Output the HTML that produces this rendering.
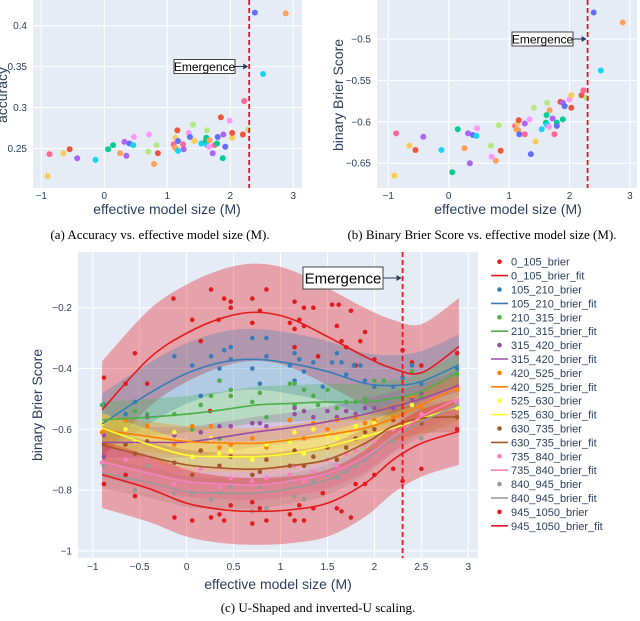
<!DOCTYPE html>
<html><head><meta charset="utf-8">
<style>
body{margin:0;background:#fff;width:640px;height:621px;overflow:hidden}
svg{display:block;font-family:"Liberation Sans",sans-serif}
.cap{font-family:"Liberation Serif",serif;font-size:13px;fill:#000}
.tick{font-size:10px;fill:#2a3f5f}
.ttl{font-size:14px;fill:#2a3f5f}
</style></head>
<body>
<svg id="fig" width="640" height="621" viewBox="0 0 640 621"></svg>
<script>
// ---------- data: panel (a) ----------
const aX=[-0.9,-0.87,-0.65,-0.55,-0.43,-0.14,0.06,0.14,0.25,0.32,0.35,0.4,0.46,0.47,0.7,0.71,0.79,0.83,0.85,1.1,1.12,1.13,1.15,1.16,1.17,1.17,1.25,1.26,1.34,1.36,1.41,1.43,1.54,1.61,1.62,1.63,1.63,1.66,1.67,1.72,1.75,1.79,1.8,1.85,1.88,1.89,1.92,1.99,2.03,2.03,2.2,2.22,2.28,2.39,2.52,2.88];
const aY=[0.216,0.243,0.244,0.249,0.238,0.236,0.249,0.254,0.244,0.258,0.241,0.256,0.254,0.264,0.246,0.267,0.231,0.254,0.244,0.255,0.251,0.263,0.249,0.272,0.259,0.247,0.255,0.249,0.269,0.264,0.279,0.259,0.256,0.259,0.263,0.272,0.254,0.252,0.26,0.244,0.254,0.256,0.264,0.288,0.238,0.267,0.252,0.284,0.263,0.269,0.267,0.308,0.273,0.416,0.341,0.415];
const aC=[9,6,9,1,3,5,2,2,4,3,3,0,5,8,7,8,4,7,1,6,4,9,4,1,0,5,6,3,8,0,7,9,5,2,2,7,5,8,4,3,6,2,0,1,2,3,0,8,9,1,1,6,7,0,5,4];
const aTicksY=[0.25,0.3,0.35,0.4];
// ---------- data: panel (b) ----------
const bX=[-0.9,-0.87,-0.65,-0.55,-0.42,-0.12,0.06,0.15,0.26,0.32,0.35,0.4,0.46,0.47,0.7,0.71,0.78,0.83,0.86,1.1,1.12,1.14,1.15,1.16,1.17,1.26,1.26,1.34,1.36,1.41,1.44,1.54,1.61,1.62,1.63,1.63,1.66,1.67,1.72,1.75,1.79,1.79,1.85,1.89,1.89,1.92,2.0,2.03,2.03,2.2,2.23,2.28,2.4,2.52,2.88];
const bY=[-0.665,-0.614,-0.629,-0.634,-0.618,-0.634,-0.661,-0.609,-0.632,-0.614,-0.65,-0.616,-0.617,-0.608,-0.629,-0.642,-0.647,-0.604,-0.635,-0.605,-0.609,-0.602,-0.61,-0.598,-0.615,-0.602,-0.615,-0.597,-0.639,-0.583,-0.624,-0.609,-0.601,-0.592,-0.577,-0.604,-0.606,-0.586,-0.596,-0.615,-0.601,-0.605,-0.576,-0.577,-0.597,-0.581,-0.573,-0.568,-0.583,-0.568,-0.562,-0.571,-0.468,-0.538,-0.48];
const bC=[9,6,9,1,3,5,2,2,4,3,3,0,5,8,7,8,4,7,1,6,4,9,4,1,0,3,6,8,0,7,9,5,2,2,7,5,8,4,3,6,2,0,1,3,2,0,8,9,1,1,6,7,0,5,4];
const bTicksY=[-0.5,-0.55,-0.6,-0.65];
const xTicksAB=[-1,0,1,2,3];
// ---------- data: panel (c) ----------
const cNames=["0_105","105_210","210_315","315_420","420_525","525_630","630_735","735_840","840_945","945_1050"];
const fitX=[-0.9,-0.4,0,0.4,0.75,1.1,1.5,1.9,2.2,2.5,2.9];
const fit0=[-0.536,-0.367,-0.284,-0.232,-0.215,-0.235,-0.295,-0.361,-0.40,-0.414,-0.328];
const fit1=[-0.582,-0.482,-0.416,-0.378,-0.37,-0.383,-0.41,-0.449,-0.456,-0.443,-0.388];
const fit2=[-0.569,-0.56,-0.55,-0.535,-0.52,-0.515,-0.51,-0.51,-0.498,-0.476,-0.41];
const fit3=[-0.643,-0.643,-0.642,-0.625,-0.608,-0.595,-0.575,-0.55,-0.526,-0.5,-0.455];
const fit4=[-0.602,-0.624,-0.64,-0.645,-0.646,-0.635,-0.618,-0.596,-0.564,-0.52,-0.46];
const fit5=[-0.596,-0.65,-0.685,-0.69,-0.69,-0.68,-0.657,-0.624,-0.596,-0.565,-0.525];
const fit6=[-0.652,-0.69,-0.717,-0.728,-0.731,-0.72,-0.70,-0.646,-0.59,-0.564,-0.559];
const fit7=[-0.707,-0.745,-0.772,-0.78,-0.783,-0.77,-0.745,-0.69,-0.624,-0.558,-0.498];
const fit8=[-0.744,-0.775,-0.805,-0.81,-0.81,-0.795,-0.766,-0.70,-0.629,-0.575,-0.52];
const fit9=[-0.749,-0.795,-0.843,-0.865,-0.87,-0.865,-0.843,-0.778,-0.70,-0.646,-0.607];
const bandHalf=[0.16,0.1,0.06,0.05,0.05,0.05,0.05,0.05,0.05,0.11];
const pts0=[[-0.88,-0.43],[-0.65,-0.45],[-0.55,-0.35],[-0.42,-0.45],[-0.14,-0.17],[0.06,-0.24],[0.15,-0.31],[0.26,-0.14],[0.34,-0.24],[0.4,-0.17],[0.47,-0.18],[0.47,-0.2],[0.7,-0.17],[0.7,-0.25],[0.78,-0.21],[0.85,-0.14],[1.1,-0.25],[1.15,-0.18],[1.15,-0.33],[1.15,-0.27],[1.25,-0.2],[1.25,-0.26],[1.35,-0.2],[1.4,-0.36],[1.55,-0.19],[1.6,-0.26],[1.62,-0.19],[1.65,-0.31],[1.7,-0.33],[1.75,-0.21],[1.8,-0.39],[1.85,-0.31],[1.9,-0.28],[2.0,-0.37],[2.3,-0.34],[2.4,-0.38],[2.5,-0.39],[2.88,-0.35],[1.2,-0.24],[0.25,-0.54]];
const pts1=[[-0.88,-0.52],[-0.65,-0.55],[-0.55,-0.51],[-0.13,-0.36],[0.06,-0.39],[0.26,-0.36],[0.35,-0.4],[0.4,-0.34],[0.47,-0.33],[0.47,-0.37],[0.7,-0.3],[0.7,-0.4],[0.78,-0.45],[0.85,-0.3],[0.85,-0.36],[1.1,-0.39],[1.15,-0.35],[1.15,-0.44],[1.2,-0.37],[1.25,-0.41],[1.35,-0.38],[1.45,-0.46],[1.55,-0.38],[1.6,-0.35],[1.65,-0.38],[1.7,-0.42],[1.78,-0.39],[1.85,-0.39],[1.9,-0.44],[2.0,-0.46],[2.2,-0.46],[2.3,-0.43],[2.4,-0.39],[2.5,-0.45],[2.88,-0.4],[0.15,-0.49]];
const pts2=[[-0.9,-0.52],[-0.55,-0.54],[-0.42,-0.55],[-0.13,-0.55],[0.06,-0.6],[0.15,-0.52],[0.26,-0.49],[0.35,-0.44],[0.47,-0.47],[0.47,-0.49],[0.7,-0.51],[0.78,-0.48],[0.85,-0.56],[1.1,-0.45],[1.15,-0.45],[1.15,-0.52],[1.25,-0.47],[1.35,-0.49],[1.4,-0.52],[1.5,-0.47],[1.6,-0.53],[1.7,-0.51],[1.8,-0.51],[1.9,-0.5],[2.0,-0.44],[2.1,-0.44],[2.3,-0.5],[2.4,-0.41],[2.5,-0.49],[2.88,-0.42],[0.35,-0.63]];
const pts3=[[-0.88,-0.69],[-0.88,-0.62],[-0.65,-0.57],[-0.42,-0.56],[-0.13,-0.62],[0.15,-0.61],[0.35,-0.59],[0.47,-0.59],[0.7,-0.58],[0.78,-0.58],[0.85,-0.59],[1.1,-0.57],[1.15,-0.55],[1.15,-0.53],[1.25,-0.54],[1.35,-0.56],[1.5,-0.54],[1.6,-0.56],[1.7,-0.54],[1.8,-0.55],[1.9,-0.53],[2.0,-0.53],[2.2,-0.53],[2.4,-0.5],[2.5,-0.48],[2.88,-0.46]];
const pts4=[[-0.9,-0.61],[-0.65,-0.57],[-0.42,-0.59],[-0.13,-0.65],[0.06,-0.59],[0.26,-0.59],[0.35,-0.66],[0.47,-0.65],[0.47,-0.69],[0.7,-0.63],[0.85,-0.66],[1.1,-0.57],[1.15,-0.61],[1.25,-0.63],[1.35,-0.58],[1.5,-0.6],[1.6,-0.57],[1.7,-0.61],[1.8,-0.56],[1.9,-0.58],[2.0,-0.57],[2.2,-0.56],[2.4,-0.49],[2.5,-0.53],[2.88,-0.47]];
const pts5=[[-0.9,-0.58],[-0.65,-0.6],[-0.55,-0.64],[-0.13,-0.61],[0.06,-0.69],[0.26,-0.63],[0.35,-0.68],[0.47,-0.67],[0.7,-0.7],[0.85,-0.65],[1.1,-0.64],[1.15,-0.61],[1.25,-0.68],[1.35,-0.6],[1.5,-0.62],[1.6,-0.63],[1.7,-0.61],[1.8,-0.59],[1.9,-0.62],[2.0,-0.58],[2.2,-0.57],[2.4,-0.52],[2.88,-0.53]];
const pts6=[[-0.88,-0.65],[-0.65,-0.65],[-0.55,-0.68],[-0.42,-0.64],[-0.13,-0.71],[0.06,-0.75],[0.15,-0.67],[0.35,-0.72],[0.47,-0.69],[0.7,-0.75],[0.78,-0.74],[0.85,-0.7],[1.1,-0.72],[1.15,-0.67],[1.25,-0.72],[1.35,-0.69],[1.5,-0.66],[1.6,-0.7],[1.7,-0.66],[1.8,-0.63],[1.9,-0.61],[2.0,-0.6],[2.2,-0.57],[2.5,-0.58],[2.88,-0.56]];
const pts7=[[-0.9,-0.71],[-0.65,-0.7],[-0.42,-0.69],[-0.13,-0.78],[0.15,-0.73],[0.35,-0.79],[0.47,-0.76],[0.7,-0.77],[0.85,-0.76],[1.1,-0.75],[1.15,-0.72],[1.25,-0.77],[1.35,-0.74],[1.5,-0.7],[1.6,-0.72],[1.7,-0.68],[1.8,-0.67],[1.9,-0.65],[2.0,-0.64],[2.2,-0.6],[2.5,-0.55],[2.88,-0.51]];
const pts8=[[-0.88,-0.72],[-0.65,-0.77],[-0.55,-0.8],[-0.42,-0.72],[-0.13,-0.81],[0.06,-0.81],[0.26,-0.83],[0.35,-0.81],[0.47,-0.79],[0.7,-0.87],[0.78,-0.79],[0.85,-0.86],[1.1,-0.77],[1.15,-0.82],[1.25,-0.83],[1.35,-0.77],[1.5,-0.75],[1.6,-0.76],[1.7,-0.74],[1.8,-0.72],[1.9,-0.7],[2.0,-0.67],[2.2,-0.64],[2.5,-0.63],[2.88,-0.52]];
const pts9=[[-0.88,-0.78],[-0.65,-0.75],[-0.55,-0.82],[-0.13,-0.89],[0.06,-0.9],[0.26,-0.89],[0.35,-0.88],[0.4,-0.9],[0.47,-0.85],[0.7,-0.91],[0.7,-0.84],[0.78,-0.86],[0.85,-0.9],[1.1,-0.88],[1.15,-0.9],[1.2,-0.85],[1.25,-0.9],[1.35,-0.86],[1.45,-0.81],[1.6,-0.86],[1.65,-0.87],[1.75,-0.89],[1.8,-0.78],[1.9,-0.78],[2.0,-0.75],[2.2,-0.73],[2.3,-0.77],[2.5,-0.73],[2.88,-0.6]];
const cTicksX=[-1,-0.5,0,0.5,1,1.5,2,2.5,3];
const cTicksY=[-0.2,-0.4,-0.6,-0.8,-1];

const plotly=["#636efa","#EF553B","#00cc96","#ab63fa","#FFA15A","#19d3f3","#FF6692","#B6E880","#FF97FF","#FECB52"];
const set1=["#e41a1c","#377eb8","#4daf4a","#984ea3","#ff7f00","#ffff33","#a65628","#f781bf","#999999","#e41a1c"];
const bandOp=[0.35,0.3,0.3,0.25,0.3,0.35,0.25,0.3,0.25,0.35];
const NS="http://www.w3.org/2000/svg";
const svg=document.getElementById('fig');
function mk(tag,at,parent,txt){const e=document.createElementNS(NS,tag);for(const k in at)e.setAttribute(k,at[k]);if(txt!==undefined)e.textContent=txt;(parent||svg).appendChild(e);return e;}
function fmt(v){return (v<0?"\u2212":"")+String(Math.abs(v));}

function panel(o){
  const g=mk('g',{});
  
  
  const sx=v=>o.x0+(v-o.xa)*o.kx, sy=v=>o.y0+(v-o.ya)*o.ky;
  const bg=mk('rect',{x:o.L,y:o.T,width:o.R-o.L,height:o.B-o.T,fill:'#e5ecf6'},g);
  
  
  o.xt.forEach(v=>{mk('line',{x1:sx(v),x2:sx(v),y1:o.T,y2:o.B,stroke:'#fff','stroke-width':1},g);
    const t=mk('text',{x:sx(v),y:o.B+o.xtd,'text-anchor':'middle',class:'tick','font-size':o.tfs},g,fmt(v));
    });
  o.yt.forEach(v=>{mk('line',{x1:o.L,x2:o.R,y1:sy(v),y2:sy(v),stroke:'#fff','stroke-width':1},g);
    const t=mk('text',{x:o.L-6,y:sy(v)+3.5,'text-anchor':'end',class:'tick','font-size':o.tfs},g,fmt(v));
    });
  const xt=mk('text',{x:o.xtx,y:o.xty,'text-anchor':'middle',class:'ttl'},g,'effective model size (M)');
  
  const yt=mk('text',{x:0,y:0,'text-anchor':'middle',class:'ttl',transform:`translate(${o.ytx},${o.yty}) rotate(-90)`},g,o.ytitle);
  
  return {g,sx,sy};
}
function emergence(g,sx,x,y,bx,bw,bh,fs){
  const xv=sx(2.3);
  const ln=mk('line',{x1:xv,x2:xv,y1:x[0],y2:x[1],stroke:'#e8161c','stroke-width':1.8,'stroke-dasharray':'5,3'},g);
  
  const b=mk('rect',{x:bx,y:y-bh/2,width:bw,height:bh,fill:'#fff',stroke:'#444','stroke-width':1},g);
  
  const t=mk('text',{x:bx+bw/2,y:y+fs*0.36,'text-anchor':'middle','font-size':fs,fill:'#000'},g,'Emergence');
  
  mk('line',{x1:bx+bw,x2:xv-3,y1:y,y2:y,stroke:'#2a3f5f','stroke-width':1},g);
  mk('path',{d:`M${xv-1},${y} l-5,-3 v6 z`,fill:'#2a3f5f'},g);
}

// panel a
let P=panel({name:'accuracy-chart',L:33,R:302,T:0,B:188,x0:41.3,xa:-1,kx:63,y0:25.7,ya:0.4,ky:-818,xt:xTicksAB,yt:aTicksY,xtd:11,tfs:10,xtx:167,xty:214,ytx:7,yty:95,ytitle:'accuracy'});
aX.forEach((x,i)=>{const c=mk('circle',{cx:P.sx(x),cy:P.sy(aY[i]),r:3,fill:plotly[aC[i]]},P.g);
  });
emergence(P.g,P.sx,[0,188],66.5,174,61,14,12);
// panel b
P=panel({name:'brier-chart',L:377,R:637,T:0,B:188,x0:388.3,xa:-1,kx:60.4,y0:39,ya:-0.5,ky:-828,xt:xTicksAB,yt:bTicksY,xtd:11,tfs:10,xtx:508,xty:214,ytx:343,yty:95,ytitle:'binary Brier Score'});
bX.forEach((x,i)=>{const c=mk('circle',{cx:P.sx(x),cy:P.sy(bY[i]),r:3,fill:plotly[bC[i]]},P.g);
  });
emergence(P.g,P.sx,[0,188],39,512,61,14,12);

// panel c
P=panel({name:'u-shaped-chart',L:78,R:478,T:252,B:558,x0:92.7,xa:-1,kx:93.9,y0:307.7,ya:-0.2,ky:-304,xt:cTicksX,yt:cTicksY,xtd:12,tfs:11,xtx:278,xty:589,ytx:42,yty:405,ytitle:'binary Brier Score'});
const fits=[fit0,fit1,fit2,fit3,fit4,fit5,fit6,fit7,fit8,fit9];
const pts=[pts0,pts1,pts2,pts3,pts4,pts5,pts6,pts7,pts8,pts9];
function seg(p){let d='';for(let i=0;i<p.length-1;i++){const a=p[Math.max(0,i-1)],b=p[i],c=p[i+1],e=p[Math.min(p.length-1,i+2)];
  d+=` C${b[0]+(c[0]-a[0])/6},${b[1]+(c[1]-a[1])/6} ${c[0]-(e[0]-b[0])/6},${c[1]-(e[1]-b[1])/6} ${c[0]},${c[1]}`;}return d;}
function smooth(p){return `M${p[0][0]},${p[0][1]}`+seg(p);}
fits.forEach((f,s)=>{
  const up=fitX.map((x,i)=>[P.sx(x),P.sy(f[i]+bandHalf[s])]);
  const dn=fitX.map((x,i)=>[P.sx(x),P.sy(f[i]-bandHalf[s])]).reverse();
  const d=smooth(up)+` L${dn[0][0]},${dn[0][1]}`+seg(dn)+' Z';
  const b=mk('path',{d,fill:set1[s],'fill-opacity':bandOp[s],stroke:'none'},P.g);
  
});
pts.forEach((ps,s)=>{ps.forEach(p=>{const c=mk('circle',{cx:P.sx(p[0]),cy:P.sy(p[1]),r:2.3,fill:set1[s]},P.g);
  });});
fits.forEach((f,s)=>{
  const l=mk('path',{d:smooth(fitX.map((x,i)=>[P.sx(x),P.sy(f[i])])),fill:'none',stroke:set1[s],'stroke-width':1.6},P.g);
  
});
emergence(P.g,P.sx,[252,558],278,303,80,22,15);

// legend
const lg=mk('g',{});

cNames.forEach((n,s)=>{
  const y1=261.7+s*2*13.9, y2=y1+13.9;
  const e1=mk('g',{},lg);
  mk('circle',{cx:499.5,cy:y1,r:2.3,fill:set1[s]},e1);
  mk('text',{x:511,y:y1+4,'font-size':11,fill:'#2a3f5f'},e1,n+'_brier');
  const e2=mk('g',{},lg);
  mk('line',{x1:491,x2:508,y1:y2,y2:y2,stroke:set1[s],'stroke-width':1.6},e2);
  mk('text',{x:511,y:y2+4,'font-size':11,fill:'#2a3f5f'},e2,n+'_brier_fit');
});
// captions
[[160,239,'(a) Accuracy vs. effective model size (M).','caption-a'],[482,239,'(b) Binary Brier Score vs. effective model size (M).','caption-b'],[318,612,'(c) U-Shaped and inverted-U scaling.','caption-c']].forEach(c=>{
  const t=mk('text',{x:c[0],y:c[1],'text-anchor':'middle',class:'cap'},svg,c[2]);
  });
</script>
</body></html>
